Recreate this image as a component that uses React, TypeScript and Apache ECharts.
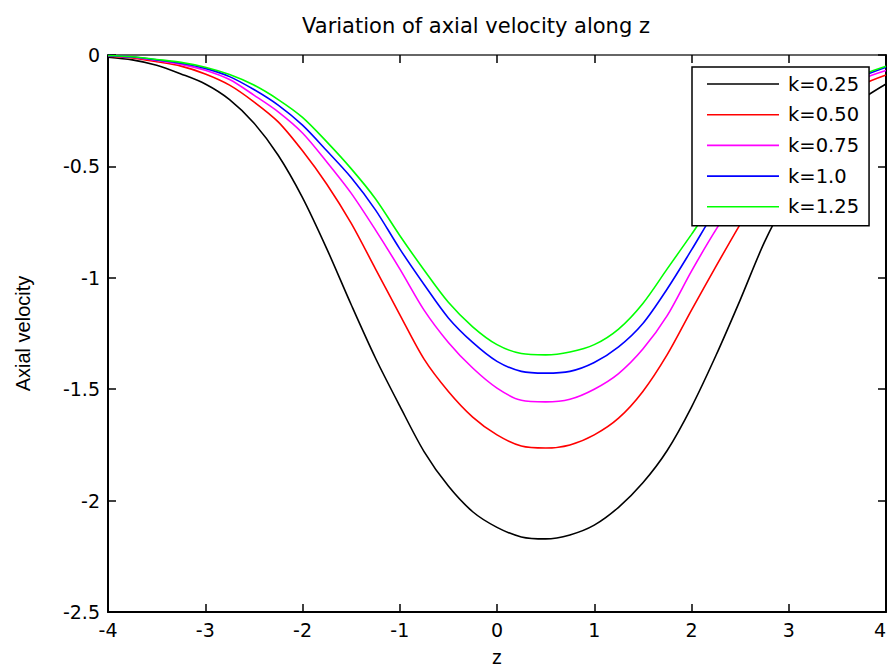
import React, { useEffect, useRef } from "react";
import * as echarts from "echarts";

const titleText = "Variation of axial velocity along z";
const xName = "z";
const yName = "Axial velocity";

const zValues = [
  -4, -3.75, -3.5, -3.25, -3, -2.75, -2.5, -2.25, -2, -1.75, -1.5, -1.25, -1,
  -0.75, -0.5, -0.25, 0, 0.25, 0.5, 0.75, 1, 1.25, 1.5, 1.75, 2, 2.25, 2.5,
  2.75, 3, 3.25, 3.5, 3.75, 4,
];

const k025 = [
  -0.01, -0.022, -0.046, -0.085, -0.13, -0.2, -0.305, -0.45, -0.64, -0.87,
  -1.12, -1.36, -1.575, -1.78, -1.935, -2.05, -2.12, -2.163, -2.172, -2.154,
  -2.11, -2.03, -1.92, -1.775, -1.58, -1.35, -1.1, -0.84, -0.63, -0.45, -0.3,
  -0.2, -0.13,
];

const k050 = [
  -0.005, -0.013, -0.03, -0.05, -0.085, -0.135, -0.21, -0.3, -0.43, -0.58,
  -0.755, -0.96, -1.165, -1.365, -1.51, -1.625, -1.705, -1.755, -1.764, -1.75,
  -1.705, -1.63, -1.51, -1.345, -1.145, -0.95, -0.76, -0.58, -0.43, -0.3,
  -0.21, -0.135, -0.09,
];

const k075 = [
  -0.004, -0.01, -0.025, -0.042, -0.068, -0.11, -0.18, -0.255, -0.35, -0.48,
  -0.62, -0.785, -0.96, -1.145, -1.29, -1.405, -1.495, -1.55, -1.557, -1.545,
  -1.5, -1.43, -1.32, -1.17, -0.97, -0.785, -0.62, -0.48, -0.35, -0.255, -0.18,
  -0.11, -0.07,
];

const k100 = [
  -0.003, -0.009, -0.022, -0.037, -0.06, -0.097, -0.155, -0.225, -0.315,
  -0.43, -0.55, -0.695, -0.87, -1.03, -1.18, -1.29, -1.375, -1.42, -1.428,
  -1.42, -1.38, -1.31, -1.205, -1.05, -0.875, -0.695, -0.55, -0.43, -0.315,
  -0.225, -0.155, -0.097, -0.055,
];

const k125 = [
  -0.002, -0.008, -0.02, -0.033, -0.055, -0.088, -0.135, -0.2, -0.28, -0.39,
  -0.51, -0.645, -0.81, -0.965, -1.11, -1.22, -1.3, -1.34, -1.346, -1.333,
  -1.3, -1.23, -1.115, -0.96, -0.805, -0.645, -0.51, -0.39, -0.28, -0.2,
  -0.135, -0.088, -0.05,
];

const seriesNames = ["k=0.25", "k=0.50", "k=0.75", "k=1.0", "k=1.25"];
const seriesValues = [k025, k050, k075, k100, k125];
const seriesColors = ["#000000", "#ff0000", "#ff00ff", "#0000ff", "#00ff00"];

export default function App() {
  const ref = useRef<HTMLDivElement>(null);

  useEffect(() => {
    if (!ref.current) return;
    const chart = echarts.init(ref.current, undefined, { renderer: "svg" });
    const tickFont = "DejaVu Sans";
    const option = {
      animation: false,
      backgroundColor: "#ffffff",
      grid: {
        left: 108,
        top: 55,
        width: 778,
        height: 557,
        containLabel: false,
        outerBoundsMode: "none",
      },
      graphic: [
        {
          type: "text",
          x: 476,
          y: 26,
          style: {
            text: titleText,
            font: "21px 'DejaVu Sans'",
            fill: "#000",
            textAlign: "center",
            textVerticalAlign: "middle",
          },
        },
      ],
      legend: {
        orient: "vertical",
        left: 692,
        top: 67,
        data: seriesNames.map((n) => ({ name: n, icon: "rect" })),
        backgroundColor: "#ffffff",
        borderColor: "#000000",
        borderWidth: 1.5,
        borderRadius: 0,
        padding: [6, 10, 8, 15],
        itemWidth: 72,
        itemHeight: 1.6,
        itemGap: 8.7,
        textStyle: {
          fontFamily: tickFont,
          fontSize: 19.5,
          color: "#000",
          lineHeight: 22,
          padding: [0, 0, 0, 4],
        },
      },
      xAxis: [
        {
          type: "value",
          min: -4,
          max: 4,
          interval: 1,
          position: "bottom",
          name: xName,
          nameLocation: "middle",
          nameGap: 35,
          nameTextStyle: { fontFamily: "Liberation Sans", fontSize: 20, color: "#000" },
          axisLine: { onZero: false, lineStyle: { color: "#000", width: 2 } },
          axisTick: { inside: true, length: 8, lineStyle: { color: "#000", width: 1.5 } },
          axisLabel: {
            fontFamily: tickFont,
            fontSize: 19,
            color: "#000",
            margin: 8,
            alignMaxLabel: "right",
          },
          splitLine: { show: false },
        },
        {
          type: "value",
          min: -4,
          max: 4,
          interval: 1,
          position: "top",
          axisLine: { onZero: false, lineStyle: { color: "#333", width: 1.5 } },
          axisTick: { inside: true, length: 8, lineStyle: { color: "#000", width: 1.5 } },
          axisLabel: { show: false },
          splitLine: { show: false },
        },
      ],
      yAxis: [
        {
          type: "value",
          min: -2.5,
          max: 0,
          interval: 0.5,
          position: "left",
          name: yName,
          nameLocation: "middle",
          nameGap: 75,
          nameTextStyle: { fontFamily: "Liberation Sans", fontSize: 20, color: "#000" },
          axisLine: { onZero: false, lineStyle: { color: "#000", width: 2 } },
          axisTick: { inside: true, length: 8, lineStyle: { color: "#000", width: 1.5 } },
          axisLabel: { fontFamily: tickFont, fontSize: 19, color: "#000", margin: 8 },
          splitLine: { show: false },
        },
        {
          type: "value",
          min: -2.5,
          max: 0,
          interval: 0.5,
          position: "right",
          axisLine: { onZero: false, lineStyle: { color: "#000", width: 2 } },
          axisTick: { inside: true, length: 8, lineStyle: { color: "#000", width: 1.5 } },
          axisLabel: { show: false },
          splitLine: { show: false },
        },
      ],
      series: seriesNames.map((name, i) => ({
        name,
        type: "line",
        xAxisIndex: 0,
        yAxisIndex: 0,
        symbol: "none",
        showSymbol: false,
        smooth: 0.3,
        data: zValues.map((z, j) => [z, seriesValues[i][j]]),
        lineStyle: { color: seriesColors[i], width: 1.6 },
        itemStyle: { color: seriesColors[i] },
      })),
    };
    chart.setOption(option as any);
    return () => chart.dispose();
  }, []);

  return (
    <div
      ref={ref}
      style={{ position: "absolute", left: 0, top: 0, width: 888, height: 668 }}
    />
  );
}
